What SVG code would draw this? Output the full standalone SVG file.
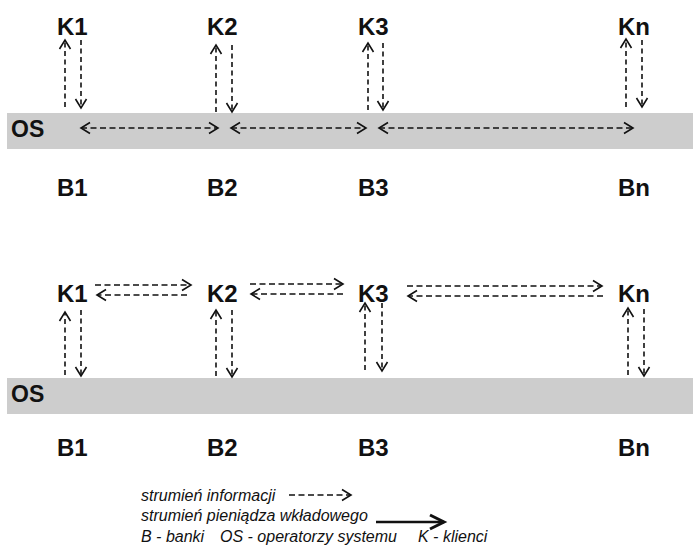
<svg xmlns="http://www.w3.org/2000/svg" width="693" height="555" viewBox="0 0 693 555">
<style>
.lbl{font-family:"Liberation Sans",Arial,sans-serif;font-weight:bold;font-size:24px;fill:#111}
.os{font-family:"Liberation Sans",Arial,sans-serif;font-weight:bold;font-size:23px;fill:#111}
.leg{font-family:"Liberation Sans",Arial,sans-serif;font-style:italic;font-size:16px;fill:#111}
.band{fill:#cdcdcd}
.d{fill:none;stroke:#111;stroke-width:1.6;stroke-dasharray:5 3.5}
.dh{fill:none;stroke:#111;stroke-width:1.6;stroke-dasharray:6 3.5}
</style>
<defs>
<marker id="ah" markerUnits="userSpaceOnUse" markerWidth="16" markerHeight="16" refX="0" refY="0" viewBox="-12 -8 14 16" orient="auto-start-reverse" overflow="visible">
<path d="M-9,-5.5 L0,0 L-9,5.5" fill="none" stroke="#111" stroke-width="1.6" stroke-dasharray="none"/>
</marker>
<marker id="ahs" markerUnits="userSpaceOnUse" markerWidth="20" markerHeight="20" refX="0" refY="0" viewBox="-16 -10 18 20" orient="auto" overflow="visible">
<path d="M-14,-7 L0,0 L-14,7" fill="none" stroke="#111" stroke-width="3"/>
</marker>
</defs>

<g id="os-top">
<rect class="band" x="7" y="113" width="686" height="36"/>
<text class="os" x="11" y="137">OS</text>
</g>
<g id="os-bottom">
<rect class="band" x="7" y="378" width="686" height="36"/>
<text class="os" x="11" y="402">OS</text>
</g>

<g id="k1-top"><text class="lbl" x="57" y="35">K1</text></g>
<g id="k2-top"><text class="lbl" x="207" y="35">K2</text></g>
<g id="k3-top"><text class="lbl" x="358" y="35">K3</text></g>
<g id="kn-top"><text class="lbl" x="618" y="35">Kn</text></g>

<g id="b1-top"><text class="lbl" x="57" y="196">B1</text></g>
<g id="b2-top"><text class="lbl" x="207" y="196">B2</text></g>
<g id="b3-top"><text class="lbl" x="358" y="196">B3</text></g>
<g id="bn-top"><text class="lbl" x="618" y="196">Bn</text></g>

<g id="k1-bottom"><text class="lbl" x="57" y="302">K1</text></g>
<g id="k2-bottom"><text class="lbl" x="207" y="302">K2</text></g>
<g id="k3-bottom"><text class="lbl" x="358" y="302">K3</text></g>
<g id="kn-bottom"><text class="lbl" x="618" y="302">Kn</text></g>

<g id="b1-bottom"><text class="lbl" x="57" y="456">B1</text></g>
<g id="b2-bottom"><text class="lbl" x="207" y="456">B2</text></g>
<g id="b3-bottom"><text class="lbl" x="358" y="456">B3</text></g>
<g id="bn-bottom"><text class="lbl" x="618" y="456">Bn</text></g>

<g id="connectors">
<line class="d" x1="65" y1="107" x2="65" y2="40" marker-end="url(#ah)"/>
<line class="d" x1="81" y1="40" x2="81" y2="108" marker-end="url(#ah)"/>
<line class="d" x1="216" y1="112" x2="216" y2="45" marker-end="url(#ah)"/>
<line class="d" x1="232" y1="45" x2="232" y2="112" marker-end="url(#ah)"/>
<line class="d" x1="368" y1="110" x2="368" y2="43" marker-end="url(#ah)"/>
<line class="d" x1="383" y1="43" x2="383" y2="110" marker-end="url(#ah)"/>
<line class="d" x1="626" y1="107" x2="626" y2="39" marker-end="url(#ah)"/>
<line class="d" x1="642" y1="40" x2="642" y2="107" marker-end="url(#ah)"/>
<line class="dh" x1="81" y1="128" x2="218" y2="128" marker-start="url(#ah)" marker-end="url(#ah)"/>
<line class="dh" x1="231" y1="128" x2="366" y2="128" marker-start="url(#ah)" marker-end="url(#ah)"/>
<line class="dh" x1="379" y1="128" x2="633" y2="128" marker-start="url(#ah)" marker-end="url(#ah)"/>
<line class="dh" x1="95" y1="285" x2="191" y2="285" marker-end="url(#ah)"/>
<line class="dh" x1="187" y1="295" x2="97" y2="295" marker-end="url(#ah)"/>
<line class="dh" x1="250" y1="284" x2="343" y2="284" marker-end="url(#ah)"/>
<line class="dh" x1="343" y1="294" x2="251" y2="294" marker-end="url(#ah)"/>
<line class="dh" x1="407" y1="286" x2="602" y2="286" marker-end="url(#ah)"/>
<line class="dh" x1="603" y1="296" x2="408" y2="296" marker-end="url(#ah)"/>
<line class="d" x1="65" y1="375" x2="65" y2="312" marker-end="url(#ah)"/>
<line class="d" x1="81" y1="310" x2="81" y2="376" marker-end="url(#ah)"/>
<line class="d" x1="216" y1="376" x2="216" y2="310" marker-end="url(#ah)"/>
<line class="d" x1="232" y1="310" x2="232" y2="377" marker-end="url(#ah)"/>
<line class="d" x1="365" y1="370" x2="365" y2="303" marker-end="url(#ah)"/>
<line class="d" x1="382" y1="303" x2="382" y2="371" marker-end="url(#ah)"/>
<line class="d" x1="628" y1="375" x2="628" y2="308" marker-end="url(#ah)"/>
<line class="d" x1="644" y1="309" x2="644" y2="376" marker-end="url(#ah)"/>
</g>

<g id="legend">
<text class="leg" x="141" y="501">strumień informacji</text>
<line class="dh" x1="289" y1="495" x2="351" y2="495" marker-end="url(#ah)"/>
<text class="leg" x="141" y="521">strumień pieniądza wkładowego</text>
<line x1="376" y1="522" x2="444" y2="522" stroke="#111" stroke-width="2.5" marker-end="url(#ahs)"/>
<text class="leg" y="542"><tspan x="141">B - banki</tspan><tspan x="220">OS - operatorzy systemu</tspan><tspan x="418">K - klienci</tspan></text>
</g>
</svg>
